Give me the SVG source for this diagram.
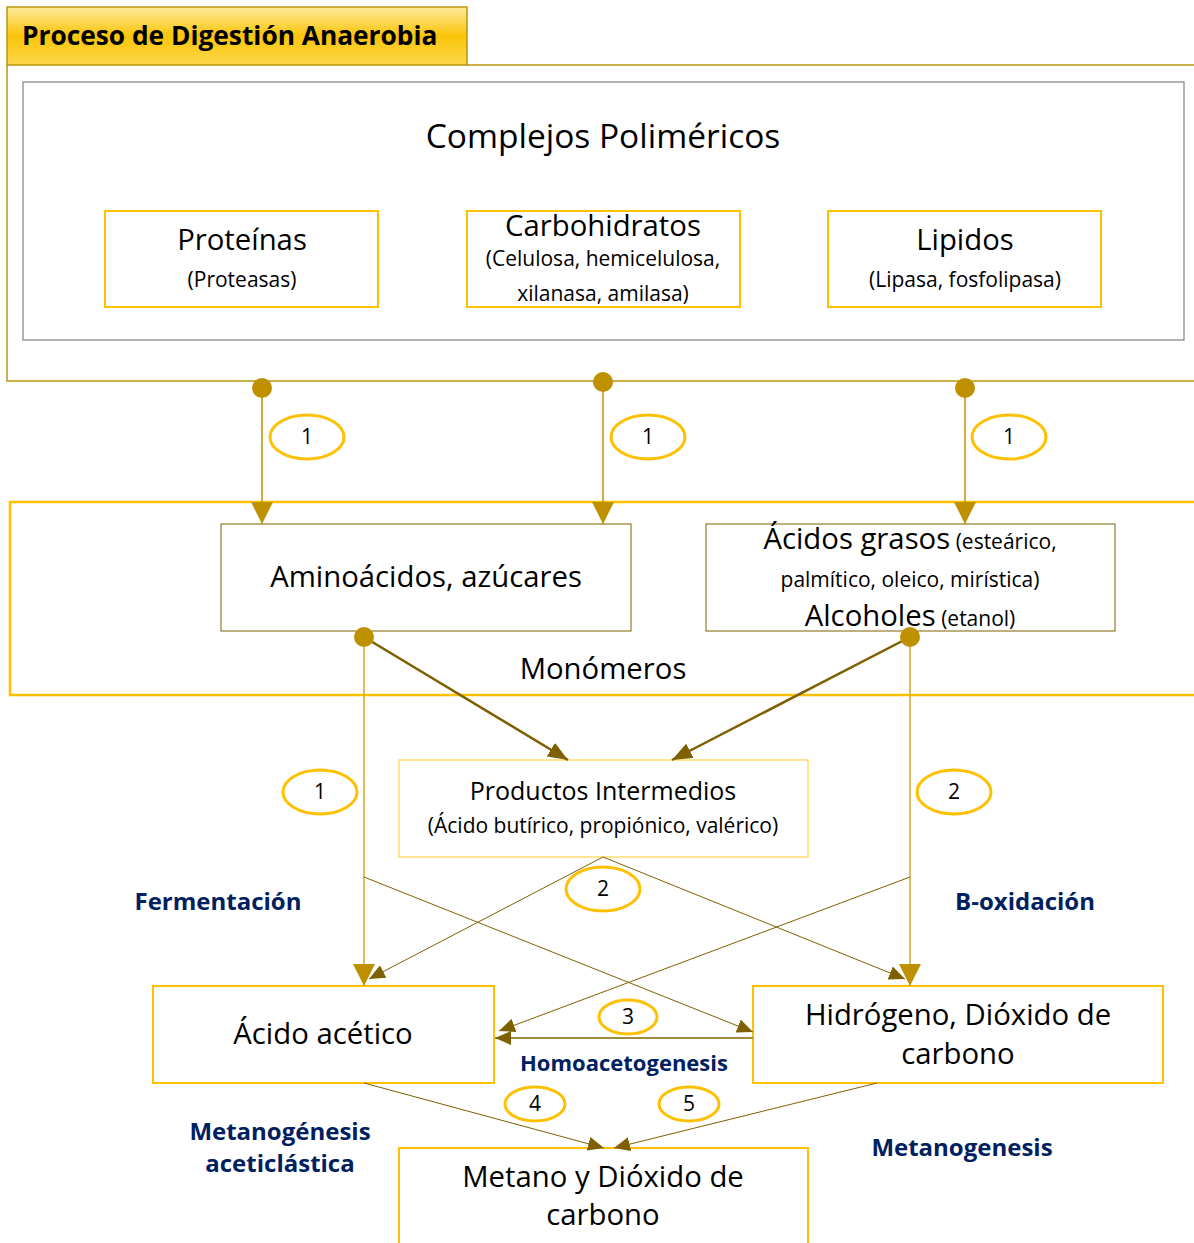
<svg xmlns="http://www.w3.org/2000/svg" width="1194" height="1243" viewBox="0 0 1194 1243">
<defs>
<linearGradient id="tabGrad" x1="0" y1="0" x2="0" y2="1">
<stop offset="0" stop-color="#ffeb9c"/>
<stop offset="0.5" stop-color="#f9c40a"/>
<stop offset="1" stop-color="#fcd84a"/>
</linearGradient>
<marker id="aGold" markerUnits="userSpaceOnUse" markerWidth="22" markerHeight="22" viewBox="0 0 20 20" refX="20" refY="10" orient="auto">
<path d="M0,0 L20,10 L0,20 Z" fill="#bf9000"/>
</marker>
<marker id="aDark" markerUnits="userSpaceOnUse" markerWidth="20" markerHeight="16" viewBox="0 0 20 16" refX="20" refY="8" orient="auto">
<path d="M0,0 L20,8 L0,16 Z" fill="#7f6000"/>
</marker>
<marker id="aThin" markerUnits="userSpaceOnUse" markerWidth="16" markerHeight="14" viewBox="0 0 16 14" refX="16" refY="7" orient="auto">
<path d="M0,0 L16,7 L0,14 Z" fill="#7f6000"/>
</marker>
</defs>
<style>
text{font-family:"Open Sans","Liberation Sans",sans-serif;fill:#000;text-anchor:middle}
.big{font-size:29.3px}
.sm{font-size:21px}
.lbl{font-size:24px;font-weight:bold;fill:#002060}
.num{font-size:21px}
.ybox{fill:#fff;stroke:#ffc000;stroke-width:2}
.obox{fill:#fff;stroke:#7f6000;stroke-width:1}
.ell{fill:#fff;stroke:#ffc000;stroke-width:3}
.dot{fill:#bf9000}
.gold{stroke:#bf9000;stroke-width:1.5;fill:none}
.lgold{stroke:#d2a92a;stroke-width:1.5;fill:none}
.dark{stroke:#7f6000;stroke-width:2.5;fill:none}
.thin{stroke:#7f6000;stroke-width:1;fill:none}
</style>
<rect width="1194" height="1243" fill="#fff"/>

<g id="frame-top">
<path d="M1194,65 H467 M7,65 V381 H1194" fill="none" stroke="#b8960c" stroke-width="1.5"/>
<rect x="7" y="7" width="460" height="58" fill="url(#tabGrad)" stroke="#b8960c" stroke-width="1.5"/>
<text x="22" y="45" style="font-size:26.3px;font-weight:bold;text-anchor:start">Proceso de Digestión Anaerobia</text>
</g>

<g id="complejos">
<rect x="23" y="82" width="1161" height="258" fill="#fff" stroke="#808080" stroke-width="1.2"/>
<text x="603" y="148" style="font-size:33.5px">Complejos Poliméricos</text>
</g>

<g id="proteinas">
<rect class="ybox" x="105" y="211" width="273" height="96"/>
<text class="big" x="242" y="250">Proteínas</text>
<text class="sm" x="242" y="287">(Proteasas)</text>
</g>
<g id="carbohidratos">
<rect class="ybox" x="467" y="211" width="273" height="96"/>
<text class="big" x="603" y="236">Carbohidratos</text>
<text class="sm" x="603" y="266">(Celulosa, hemicelulosa,</text>
<text class="sm" x="603" y="301">xilanasa, amilasa)</text>
</g>
<g id="lipidos">
<rect class="ybox" x="828" y="211" width="273" height="96"/>
<text class="big" x="965" y="250">Lipidos</text>
<text class="sm" x="965" y="287">(Lipasa, fosfolipasa)</text>
</g>

<g id="monomeros">
<path d="M1194,502 H10 V695 H1194" fill="none" stroke="#ffc000" stroke-width="2.5"/>
<text class="big" x="603" y="679">Monómeros</text>
</g>
<g id="aminoacidos">
<rect class="obox" x="221" y="524" width="410" height="107"/>
<text class="big" x="426" y="587">Aminoácidos, azúcares</text>
</g>
<g id="acidos-grasos">
<rect class="obox" x="706" y="524" width="409" height="107"/>
<text x="910" y="549"><tspan class="big">Ácidos grasos</tspan><tspan class="sm"> (esteárico,</tspan></text>
<text class="sm" x="910" y="587">palmítico, oleico, mirística)</text>
<text x="910" y="626"><tspan class="big">Alcoholes</tspan><tspan class="sm"> (etanol)</tspan></text>
</g>

<g id="productos">
<rect x="399" y="760" width="409" height="97" fill="#fff" stroke="#ffd24d" stroke-width="1.2"/>
<text x="603" y="800" style="font-size:25px">Productos Intermedios</text>
<text class="sm" x="603" y="833">(Ácido butírico, propiónico, valérico)</text>
</g>

<g id="acido-acetico">
<rect class="ybox" x="153" y="986" width="341" height="97"/>
<text class="big" x="323" y="1044">Ácido acético</text>
</g>
<g id="hidrogeno">
<rect class="ybox" x="753" y="986" width="410" height="97"/>
<text class="big" x="958" y="1025">Hidrógeno, Dióxido de</text>
<text class="big" x="958" y="1064">carbono</text>
</g>
<g id="metano">
<path d="M399,1243 V1148 H808 V1243" fill="#fff" stroke="#ffc000" stroke-width="2"/>
<text class="big" x="603" y="1187">Metano y Dióxido de</text>
<text class="big" x="603" y="1225">carbono</text>
</g>

<g id="connectors">
<line class="gold" x1="262" y1="388" x2="262" y2="524" marker-end="url(#aGold)"/>
<line class="gold" x1="603" y1="382" x2="603" y2="524" marker-end="url(#aGold)"/>
<line class="gold" x1="965" y1="388" x2="965" y2="524" marker-end="url(#aGold)"/>
<circle class="dot" cx="262" cy="388" r="10"/>
<circle class="dot" cx="603" cy="382" r="10"/>
<circle class="dot" cx="965" cy="388" r="10"/>

<line class="lgold" x1="364" y1="637" x2="364" y2="986" marker-end="url(#aGold)"/>
<line class="lgold" x1="910" y1="637" x2="910" y2="986" marker-end="url(#aGold)"/>
<line class="dark" x1="364" y1="637" x2="568" y2="760" marker-end="url(#aDark)"/>
<line class="dark" x1="910" y1="637" x2="672" y2="760" marker-end="url(#aDark)"/>
<circle class="dot" cx="364" cy="637" r="10"/>
<circle class="dot" cx="910" cy="637" r="10"/>

<line class="thin" x1="603" y1="857" x2="369" y2="979" marker-end="url(#aThin)"/>
<line class="thin" x1="603" y1="857" x2="905" y2="979" marker-end="url(#aThin)"/>
<line class="thin" x1="364" y1="877" x2="753" y2="1032" marker-end="url(#aThin)"/>
<line class="thin" x1="910" y1="877" x2="499" y2="1031" marker-end="url(#aThin)"/>
<line x1="753" y1="1038" x2="495" y2="1038" stroke="#a08a40" stroke-width="2" marker-end="url(#aThin)"/>
<line class="thin" x1="364" y1="1083" x2="604" y2="1148" marker-end="url(#aThin)"/>
<line class="thin" x1="877" y1="1083" x2="614" y2="1148" marker-end="url(#aThin)"/>
</g>

<g id="labels">
<ellipse class="ell" cx="307" cy="437" rx="37" ry="22"/><text class="num" x="307" y="444">1</text>
<ellipse class="ell" cx="648" cy="437" rx="37" ry="22"/><text class="num" x="648" y="444">1</text>
<ellipse class="ell" cx="1009" cy="437" rx="37" ry="22"/><text class="num" x="1009" y="444">1</text>
<ellipse class="ell" cx="320" cy="792" rx="37" ry="22"/><text class="num" x="320" y="799">1</text>
<ellipse class="ell" cx="954" cy="792" rx="37" ry="22"/><text class="num" x="954" y="799">2</text>
<ellipse class="ell" cx="603" cy="889" rx="37" ry="22"/><text class="num" x="603" y="896">2</text>
<ellipse class="ell" cx="628" cy="1017" rx="29" ry="17"/><text class="num" x="628" y="1024">3</text>
<ellipse class="ell" cx="535" cy="1104" rx="30" ry="17"/><text class="num" x="535" y="1111">4</text>
<ellipse class="ell" cx="689" cy="1104" rx="30" ry="17"/><text class="num" x="689" y="1111">5</text>
<text class="lbl" x="218" y="910">Fermentación</text>
<text class="lbl" x="1025" y="910">B-oxidación</text>
<text class="lbl" x="624" y="1071" style="font-size:22px">Homoacetogenesis</text>
<text class="lbl" x="280" y="1140">Metanogénesis</text>
<text class="lbl" x="280" y="1172">aceticlástica</text>
<text class="lbl" x="962" y="1156">Metanogenesis</text>
</g>
</svg>
